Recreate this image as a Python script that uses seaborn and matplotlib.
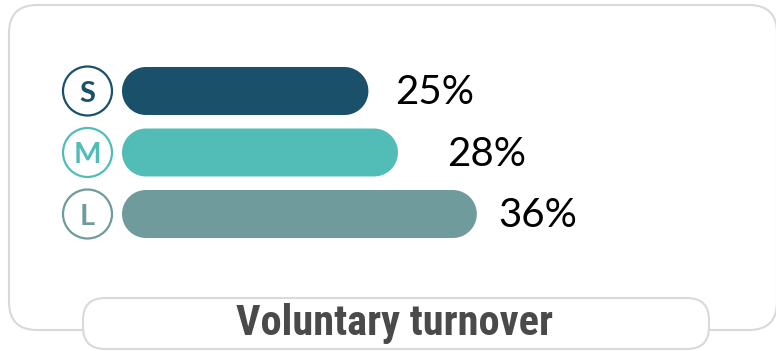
import matplotlib
matplotlib.use("Agg")
import numpy as np
import matplotlib.pyplot as plt
from matplotlib import font_manager
from matplotlib.patches import FancyBboxPatch, Ellipse, Polygon
import seaborn as sns

# Company size bands and their voluntary turnover rates (%)
sizes = ["S", "M", "L"]
turnover = [25, 28, 36]
value_labels = ["25%", "28%", "36%"]
colors = ["#1a5069", "#52bdb6", "#6f9b9c"]
title = "Voluntary turnover"

# gap between bar end and its value label, in % units
label_gap = [2.7, 5.0, 2.2]

W, H = 776, 351
sns.set_theme(style="white")
plt.rcParams["font.family"] = ["Lato", "DejaVu Sans"]

# prefer a condensed face for the caption when one is installed
installed = {f.name for f in font_manager.fontManager.ttflist}
caption_family, caption_size = "Lato", 27
for cand, size in [("Liberation Sans Narrow", 30.5), ("Roboto Condensed", 30.5),
                   ("Open Sans Condensed", 30.5), ("DejaVu Sans Condensed", 27)]:
    if cand in installed:
        caption_family, caption_size = cand, size
        break

fig = plt.figure(figsize=(W / 100, H / 100), dpi=100)

# background layer in pixel coordinates: card outline and caption pill
bg = fig.add_axes([0, 0, 1, 1], zorder=0)
bg.set_xlim(0, W)
bg.set_ylim(H, 0)
bg.axis("off")
bg.add_patch(FancyBboxPatch((9, 5), 768, 325,
                            boxstyle="round,pad=0,rounding_size=28",
                            fc="white", ec="#d9d9d9", lw=1.5))
bg.add_patch(FancyBboxPatch((83, 298), 626, 51,
                            boxstyle="round,pad=0,rounding_size=22",
                            fc="white", ec="#d9d9d9", lw=1.5))
bg.text(394, 335, title, ha="center", va="baseline", fontsize=caption_size,
        fontweight="bold", color="#4a4a4a",
        family=[caption_family, "DejaVu Sans"])

# bar layer
px_per_unit = 9.856      # horizontal pixels per percentage point
row_px = 61.5            # vertical pixels per row
left_px, right_px = 122, 722
top_px = 91 - row_px / 2
bottom_px = top_px + 3 * row_px
ax = fig.add_axes([left_px / W, (H - bottom_px) / H,
                   (right_px - left_px) / W, (bottom_px - top_px) / H],
                  zorder=1)
ax.patch.set_alpha(0)

sns.barplot(x=turnover, y=sizes, hue=sizes, palette=colors, legend=False,
            orient="h", width=0.78, saturation=1, ax=ax)
ax.set_xlim(0, (right_px - left_px) / px_per_unit)
ax.set_ylim(2.5, -0.5)
ax.axis("off")

# turn each square bar into a stadium shape with semicircular ends
for p in list(ax.patches):
    x, y = p.get_x(), p.get_y()
    w, h = p.get_width(), p.get_height()
    fc = p.get_facecolor()
    p.remove()
    ry = h / 2
    rx = ry * row_px / px_per_unit
    yc = y + ry
    t_right = np.linspace(-np.pi / 2, np.pi / 2, 60)
    t_left = np.linspace(np.pi / 2, 3 * np.pi / 2, 60)
    right = np.column_stack([x + w - rx + rx * np.cos(t_right),
                             yc + ry * np.sin(t_right)])
    left = np.column_stack([x + rx + rx * np.cos(t_left),
                            yc + ry * np.sin(t_left)])
    ax.add_patch(Polygon(np.vstack([right, left]), closed=True, fc=fc,
                         ec="none", clip_on=False))

# size badges and value labels
cx = (87.5 - left_px) / px_per_unit
for i, (s, v, lab, c, gap) in enumerate(zip(sizes, turnover, value_labels,
                                             colors, label_gap)):
    ax.add_patch(Ellipse((cx, i), 49 / px_per_unit, 49 / row_px,
                         fc="white", ec=c, lw=1.6, clip_on=False))
    ax.text(cx, i, s, ha="center", va="center_baseline", fontsize=21,
            fontweight="bold", color=c, clip_on=False)
    ax.text(v + gap, i - 0.03, lab, ha="left", va="center_baseline",
            fontsize=29, color="black", clip_on=False)

fig.savefig("out.png", dpi=100, facecolor="white")
